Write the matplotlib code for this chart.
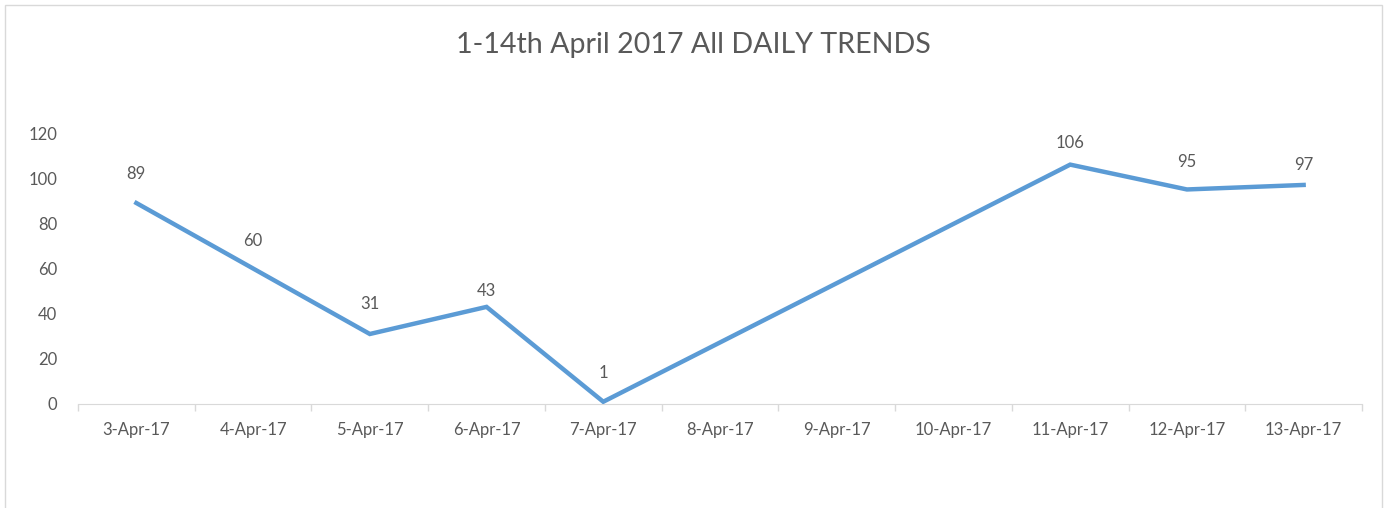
import matplotlib.pyplot as plt
import matplotlib.dates as mdates
import numpy as np
import pandas as pd
from matplotlib.patches import Rectangle

# data
dates = ["2017-04-03", "2017-04-04", "2017-04-05", "2017-04-06", "2017-04-07",
         "2017-04-11", "2017-04-12", "2017-04-13"]
counts = [89, 60, 31, 43, 1, 106, 95, 97]
axis_start = "2017-04-03"
axis_end = "2017-04-13"
title = "1-14th April 2017 All DAILY TRENDS"

# label lift above each point, in pixels (Excel's auto placement)
label_lift_px = [29, 28, 30, 16, 29, 22, 27, 20]

TEXT = "#595959"
LINE = "#5b9bd5"
GRID = "#d9d9d9"

plt.rcParams["font.family"] = ["Lato", "DejaVu Sans"]

x = pd.to_datetime(dates)
days = pd.date_range(axis_start, axis_end, freq="D")
half = pd.Timedelta(hours=12)

fig = plt.figure(figsize=(13.87, 5.08), dpi=100)
fig.patches.append(Rectangle((5 / 1387, -0.01), 1377 / 1387, 1 - 5 / 508 + 0.01,
                             transform=fig.transFigure, fill=False,
                             edgecolor=GRID, linewidth=1))

ax = fig.add_axes([78 / 1387, 1 - 404 / 508, 1284 / 1387, 271 / 508])
ax.plot(x, counts, color=LINE, linewidth=3.2, solid_joinstyle="miter", zorder=3)

for xi, v, lift in zip(x, counts, label_lift_px):
    ax.annotate(str(v), (xi, v), xytext=(0, lift * 0.72), textcoords="offset points",
                ha="center", va="center", fontsize=12, color=TEXT)

ax.set_xlim(days[0] - half, days[-1] + half)
ax.set_ylim(0, 120)
ax.set_yticks(np.arange(0, 121, 20))

# category-style axis: labels centred on days, marks between them
edges = list(days - half) + [days[-1] + half]
ax.set_xticks(mdates.date2num(edges))
ax.xaxis.set_major_formatter(plt.NullFormatter())
ax.set_xticks(mdates.date2num(days), minor=True)
ax.set_xticklabels([d.strftime("%-d-%b-%y") for d in days], minor=True)
ax.tick_params(axis="x", which="major", length=5, color=GRID, width=1)
ax.tick_params(axis="x", which="minor", length=0, pad=13, labelsize=12, labelcolor=TEXT)
ax.tick_params(axis="y", length=0, pad=15, labelsize=12, labelcolor=TEXT)

for s in ["top", "right", "left"]:
    ax.spines[s].set_visible(False)
ax.spines["bottom"].set_color(GRID)

fig.text(0.5, 1 - 45 / 508, title, ha="center", va="center", fontsize=20.6,
         color=TEXT)

fig.savefig("out.png", dpi=100)
